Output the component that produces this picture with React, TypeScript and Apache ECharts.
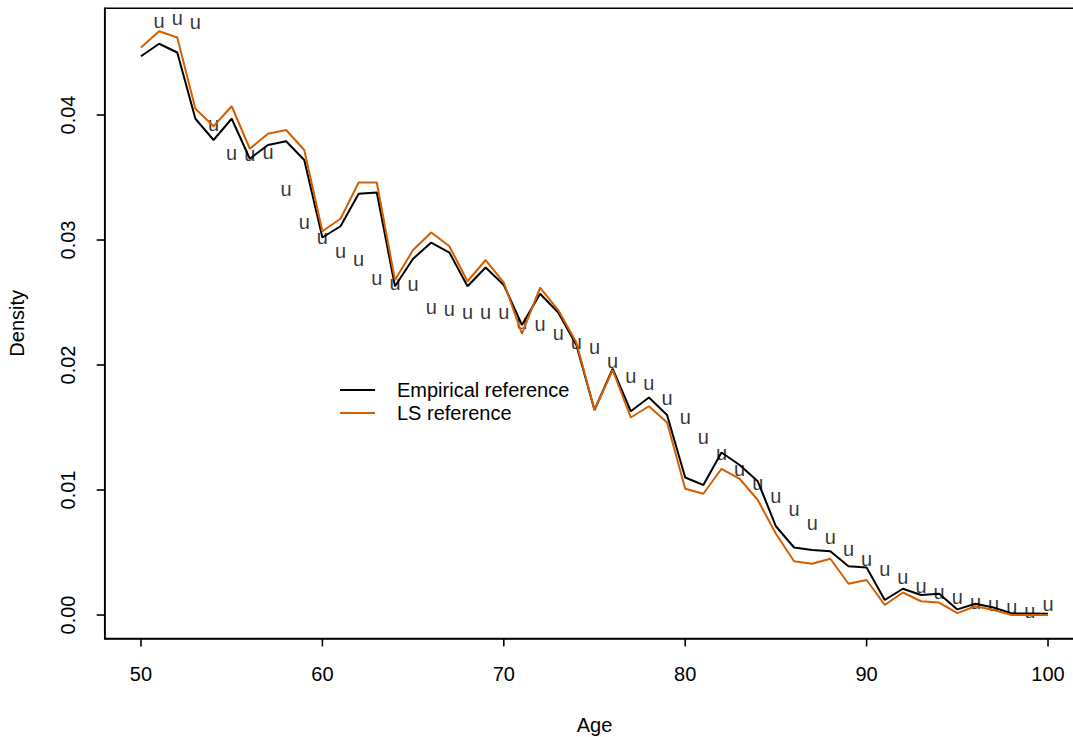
import React, { useEffect, useRef } from "react";
import * as echarts from "echarts";

const ages = [50,51,52,53,54,55,56,57,58,59,60,61,62,63,64,65,66,67,68,69,70,71,72,73,74,75,76,77,78,79,80,81,82,83,84,85,86,87,88,89,90,91,92,93,94,95,96,97,98,99,100];

const empirical = [0.0447,0.0457,0.0450,0.0397,0.0380,0.0397,0.0365,0.0376,0.0379,0.0364,0.0302,0.0311,0.0337,0.0338,0.0263,0.0285,0.0298,0.0290,0.0263,0.0278,0.0264,0.0232,0.0257,0.0242,0.0216,0.0164,0.0197,0.0163,0.0174,0.0160,0.0110,0.0104,0.0130,0.0120,0.0107,0.0071,0.0054,0.0052,0.0051,0.0039,0.0038,0.0012,0.0021,0.0016,0.0017,0.00045,0.0009,0.0006,0.00013,0.00013,0.0001];

const lsRef = [0.0454,0.0467,0.0462,0.0405,0.0391,0.0407,0.0373,0.0385,0.0388,0.0372,0.0307,0.0317,0.0346,0.0346,0.0268,0.0292,0.0306,0.0295,0.0267,0.0284,0.0266,0.0225,0.0262,0.0244,0.0218,0.0164,0.0196,0.0158,0.0167,0.0154,0.0101,0.0097,0.0117,0.0109,0.0092,0.0065,0.0043,0.0041,0.0045,0.0025,0.0028,0.0008,0.0018,0.0011,0.0010,0.00015,0.0007,0.0004,0.0,0.0,0.0];

const uAges = [51,52,53,54,55,56,57,58,59,60,61,62,63,64,65,66,67,68,69,70,71,72,73,74,75,76,77,78,79,80,81,82,83,84,85,86,87,88,89,90,91,92,93,94,95,96,97,98,99,100];
const uValues = [0.0474,0.0476,0.0473,0.0391,0.0368,0.0367,0.0369,0.0339,0.0313,0.0301,0.0290,0.0283,0.0268,0.0264,0.0263,0.0245,0.0243,0.0241,0.0241,0.0241,0.0233,0.0231,0.0224,0.0217,0.0213,0.0202,0.0190,0.0184,0.0172,0.0157,0.0141,0.0128,0.0115,0.0104,0.0094,0.0083,0.0072,0.0061,0.0051,0.0043,0.0035,0.0029,0.0022,0.0017,0.0013,0.0009,0.0007,0.00045,0.0002,0.0007];

const xTicks = [50, 60, 70, 80, 90, 100];
const yTicks = [0, 0.01, 0.02, 0.03, 0.04];

const seriesNames = ["Empirical reference", "LS reference"];
const ORANGE = "#D55E00";
const FONT = "'Liberation Sans', Arial, Helvetica, sans-serif";

const X_MIN = 48;
const X_MAX = 102;
const Y_MIN = -0.00187;
const Y_MAX = 0.04854;
const TICK_LEN = 8;
const TICK_W = 1.6;

export default function App() {
  const ref = useRef<HTMLDivElement>(null);
  useEffect(() => {
    if (!ref.current) return;
    const chart = echarts.init(ref.current, null, { renderer: "svg" });
    const legendGraphics: any[] = [
      { type: "line", shape: { x1: 340, y1: 390, x2: 375, y2: 390 }, style: { stroke: "#000", lineWidth: 2 } },
      { type: "line", shape: { x1: 340, y1: 413, x2: 375, y2: 413 }, style: { stroke: ORANGE, lineWidth: 2 } },
      { type: "text", x: 397, y: 390, style: { text: seriesNames[0], fill: "#000", fontSize: 20, fontFamily: FONT, verticalAlign: "middle", align: "left" } },
      { type: "text", x: 397, y: 413, style: { text: seriesNames[1], fill: "#000", fontSize: 20, fontFamily: FONT, verticalAlign: "middle", align: "left" } },
    ];
    const option: any = {
      animation: false,
      backgroundColor: "#ffffff",
      textStyle: { fontFamily: FONT },
      grid: {
        left: 104.7,
        top: 8.25,
        width: 979.6,
        height: 630.15,
        outerBoundsMode: "none",
        containLabel: false,
        show: true,
        borderColor: "#000",
        borderWidth: 1.5,
        backgroundColor: "transparent",
      },
      xAxis: {
        type: "value",
        min: X_MIN,
        max: X_MAX,
        axisLine: { show: true, onZero: false, lineStyle: { color: "#000", width: 1.5 } },
        splitLine: { show: false },
        axisTick: { show: false },
        axisLabel: {
          customValues: xTicks,
          color: "#000",
          fontSize: 20,
          fontFamily: FONT,
          margin: 26,
        },
        name: "Age",
        nameLocation: "middle",
        nameGap: 77,
        nameTextStyle: { color: "#000", fontSize: 20, fontFamily: FONT },
      },
      yAxis: {
        type: "value",
        min: Y_MIN,
        max: Y_MAX,
        axisLine: { show: true, onZero: false, lineStyle: { color: "#000", width: 1.5 } },
        splitLine: { show: false },
        axisTick: { show: false },
        axisLabel: {
          customValues: yTicks,
          rotate: 90,
          color: "#000",
          fontSize: 20,
          fontFamily: FONT,
          margin: 27,
          formatter: (v: number) => v.toFixed(2),
        },
        name: "Density",
        nameLocation: "middle",
        nameGap: 78,
        nameTextStyle: { color: "#000", fontSize: 20, fontFamily: FONT },
      },
      series: [
        {
          name: seriesNames[0],
          type: "line",
          data: ages.map((a, i) => [a, empirical[i]]),
          showSymbol: false,
          symbol: "none",
          lineStyle: { color: "#000", width: 2 },
          itemStyle: { color: "#000" },
        },
        {
          name: seriesNames[1],
          type: "line",
          data: ages.map((a, i) => [a, lsRef[i]]),
          showSymbol: false,
          symbol: "none",
          lineStyle: { color: ORANGE, width: 2 },
          itemStyle: { color: ORANGE },
        },
        {
          name: "u",
          type: "scatter",
          data: uAges.map((a, i) => [a, uValues[i]]),
          symbolSize: 1,
          itemStyle: { color: "rgba(0,0,0,0)" },
          label: {
            show: true,
            position: "inside",
            formatter: "u",
            color: "#000",
            textBorderWidth: 0,
            fontSize: 20,
            fontFamily: FONT,
            offset: [0, -2],
          },
          emphasis: { disabled: true },
        },
      ],
      graphic: legendGraphics,
    };
    chart.setOption(option);

    const toPx = (pt: number[]): number[] | null => {
      const finders: any[] = [{ gridIndex: 0 }, { seriesIndex: 0 }, { xAxisIndex: 0, yAxisIndex: 0 }];
      for (const f of finders) {
        try {
          const r: any = chart.convertToPixel(f, pt);
          if (r && isFinite(r[0]) && isFinite(r[1])) return [Number(r[0]), Number(r[1])];
        } catch (e) {
          // try next finder
        }
      }
      return null;
    };

    const tickGraphics: any[] = [];
    xTicks.forEach((v) => {
      const p = toPx([v, Y_MIN]);
      if (!p) return;
      tickGraphics.push({
        type: "rect",
        silent: true,
        z: 50,
        shape: { x: p[0] - TICK_W / 2, y: p[1], width: TICK_W, height: TICK_LEN },
        style: { fill: "#000" },
      });
    });
    yTicks.forEach((v) => {
      const p = toPx([X_MIN, v]);
      if (!p) return;
      tickGraphics.push({
        type: "rect",
        silent: true,
        z: 50,
        shape: { x: p[0] - TICK_LEN, y: p[1] - TICK_W / 2, width: TICK_LEN, height: TICK_W },
        style: { fill: "#000" },
      });
    });
    chart.setOption({ graphic: [...legendGraphics, ...tickGraphics] });

    return () => chart.dispose();
  }, []);
  return (
    <div style={{ position: "absolute", left: 0, top: 0, width: 1073, height: 737, overflow: "hidden", background: "#fff" }}>
      <div ref={ref} style={{ width: 1100, height: 737 }} />
    </div>
  );
}
